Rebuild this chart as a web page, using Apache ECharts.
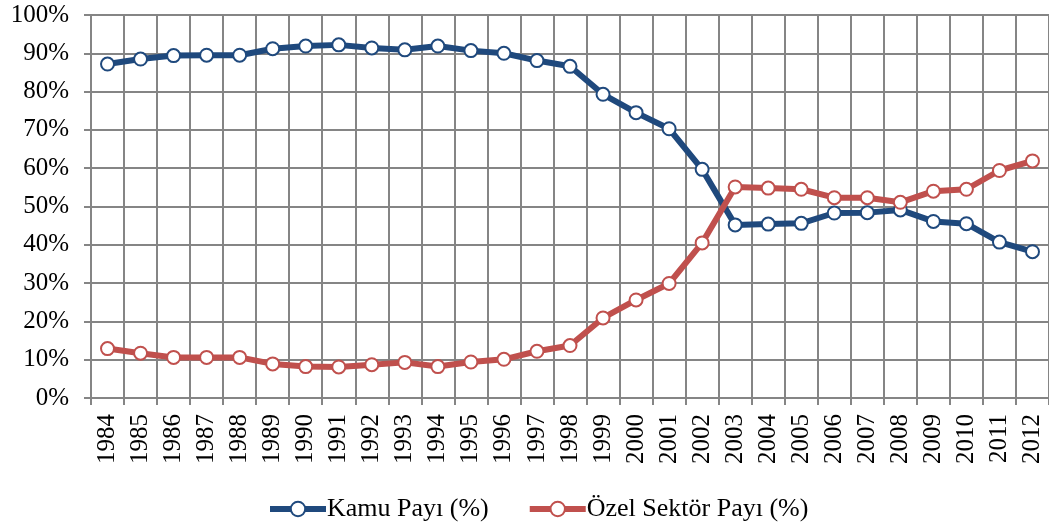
<!DOCTYPE html>
<html>
<head>
<meta charset="utf-8">
<script src="https://cdn.jsdelivr.net/npm/echarts@6/dist/echarts.min.js"></script>
<style>
  html, body { margin: 0; padding: 0; background: #fff; }
  #chart { width: 1049px; height: 524px; }
</style>
</head>
<body>
<div id="chart"></div>
<script>
// yıllar ve paylar (%)
const years = ['1984', '1985', '1986', '1987', '1988', '1989', '1990', '1991', '1992', '1993',
  '1994', '1995', '1996', '1997', '1998', '1999', '2000', '2001', '2002', '2003',
  '2004', '2005', '2006', '2007', '2008', '2009', '2010', '2011', '2012'];
const kamuPayi = [87.2, 88.5, 89.4, 89.5, 89.5, 91.2, 91.9, 92.2, 91.4, 90.9,
  91.9, 90.7, 90.0, 88.1, 86.6, 79.3, 74.5, 70.3, 59.7, 45.2,
  45.4, 45.6, 48.3, 48.4, 49.1, 46.1, 45.5, 40.7, 38.2];
const ozelPayi = [12.9, 11.7, 10.6, 10.6, 10.6, 8.9, 8.2, 8.1, 8.7, 9.3,
  8.2, 9.4, 10.1, 12.2, 13.7, 20.9, 25.6, 29.9, 40.5, 55.1,
  54.8, 54.5, 52.3, 52.3, 51.1, 54.0, 54.5, 59.4, 61.9];
const seriesNames = ['Kamu Payı (%)', 'Özel Sektör Payı (%)'];

const font = "'Liberation Serif', 'Times New Roman', serif";
const gridColor = '#858585';

const chart = echarts.init(document.getElementById('chart'));

function lineSeries(name, data, color) {
  return {
    name: name,
    type: 'line',
    data: data,
    symbol: 'circle',
    symbolSize: 13,
    showSymbol: true,
    lineStyle: { color: color, width: 6 },
    itemStyle: { color: '#fff', borderColor: color, borderWidth: 2 },
    emphasis: { disabled: true },
    animation: false
  };
}

chart.setOption({
  backgroundColor: '#fff',
  grid: { left: 91, top: 15, width: 959, height: 383, containLabel: false },
  legend: {
    top: 488,
    left: 262,
    itemWidth: 56,
    itemHeight: 18,
    itemGap: 38,
    lineStyle: { width: 6 },
    textStyle: { fontFamily: font, fontSize: 26, color: '#000', lineHeight: 32, padding: [0, 0, 0, -4] },
    data: seriesNames
  },
  xAxis: {
    type: 'category',
    data: years,
    boundaryGap: true,
    axisLine: { lineStyle: { color: gridColor, width: 2 } },
    axisTick: { show: true, length: 7, lineStyle: { color: gridColor, width: 2 } },
    splitLine: { show: true, interval: 0, lineStyle: { color: gridColor, width: 2 } },
    axisLabel: {
      interval: 0,
      rotate: 90,
      margin: 16,
      fontFamily: font,
      fontSize: 25,
      color: '#000'
    }
  },
  yAxis: {
    type: 'value',
    min: 0,
    max: 100,
    interval: 10,
    axisLine: { show: true, lineStyle: { color: gridColor, width: 2 } },
    axisTick: { show: true, length: 7, lineStyle: { color: gridColor, width: 2 } },
    splitLine: { show: true, lineStyle: { color: gridColor, width: 2 } },
    axisLabel: {
      formatter: '{value}%',
      margin: 22,
      fontFamily: font,
      fontSize: 25,
      color: '#000'
    }
  },
  series: [
    lineSeries(seriesNames[0], kamuPayi, '#1F497D'),
    lineSeries(seriesNames[1], ozelPayi, '#C0504D')
  ]
});
</script>
</body>
</html>
